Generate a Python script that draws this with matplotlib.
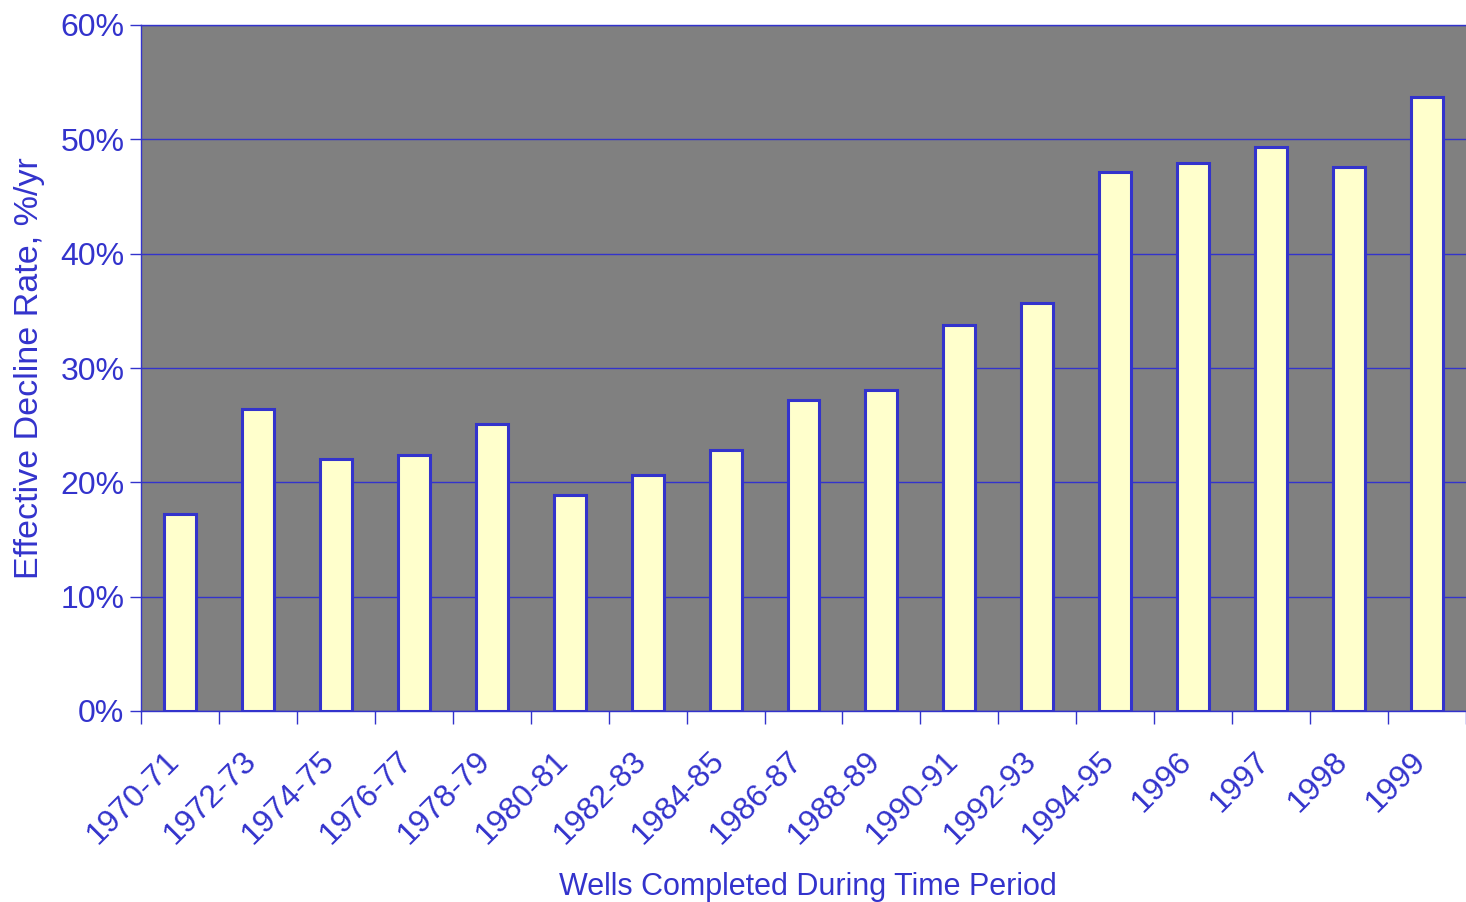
import numpy as np
import matplotlib.pyplot as plt
from matplotlib.ticker import FixedLocator, PercentFormatter

periods = ['1970-71', '1972-73', '1974-75', '1976-77', '1978-79', '1980-81',
           '1982-83', '1984-85', '1986-87', '1988-89', '1990-91', '1992-93',
           '1994-95', '1996', '1997', '1998', '1999']
decline = [17.2, 26.4, 22.0, 22.4, 25.1, 18.9, 20.6, 22.8, 27.2, 28.1,
           33.8, 35.7, 47.1, 47.9, 49.3, 47.6, 53.7]

blue = '#3333CC'
plt.rcParams['font.family'] = ['Liberation Sans', 'DejaVu Sans']

fig = plt.figure(figsize=(14.66, 9.02), dpi=100)
ax = fig.add_axes([141/1466, 191/902, 1325/1466, 686/902])
ax.set_facecolor('#808080')

x = np.arange(len(periods))
ax.bar(x, decline, width=0.41, color='#FFFFCC', edgecolor=blue,
       linewidth=2.2, zorder=3)

ax.set_xlim(-0.5, len(periods) - 0.5)
ax.set_ylim(0, 60)
ax.set_yticks(np.arange(0, 61, 10))
ax.yaxis.set_major_formatter(PercentFormatter(decimals=0))
ax.grid(axis='y', color=blue, linewidth=1.0, zorder=1)

ax.set_xticks(x)
ax.set_xticklabels(periods, rotation=45, ha='right', va='baseline',
                   rotation_mode='anchor')
ax.xaxis.set_minor_locator(FixedLocator(np.arange(-0.5, len(periods), 1)))
ax.tick_params(axis='x', which='major', length=0, pad=37,
               labelsize=23, labelcolor=blue)
ax.tick_params(axis='x', which='minor', length=9, width=1, color=blue)
ax.tick_params(axis='y', length=8, width=1, color=blue,
               labelsize=23, labelcolor=blue, pad=4)

for side in ['left', 'top', 'bottom']:
    ax.spines[side].set_color(blue)
    ax.spines[side].set_linewidth(1.0)
ax.spines['right'].set_visible(False)

ax.set_xlabel('Wells Completed During Time Period', fontsize=22,
              color=blue, va='top')
ax.xaxis.set_label_coords(0.503, -0.234)
ax.set_ylabel('Effective Decline Rate, %/yr', fontsize=24.5,
              color=blue, labelpad=11)

fig.savefig('out.png', dpi=100)
